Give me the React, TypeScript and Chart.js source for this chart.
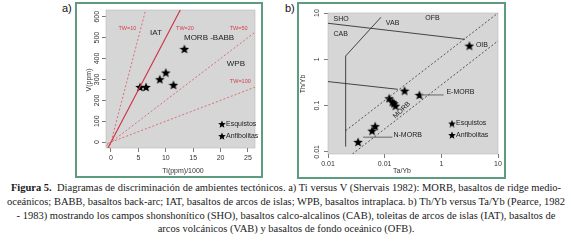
import React, { useEffect, useRef } from "react";
import { Chart, registerables } from "chart.js";
Chart.register(...registerables);

const FONT = '"Liberation Sans", Arial, sans-serif';

// ---------- Panel a: Ti vs V (Shervais 1982) ----------
const tiSamples = [5.3, 6.4, 8.9, 10.0, 11.4, 13.4];
const vSamples = [264, 264, 301, 333, 274, 446];
const twRatios = [10, 20, 50, 100];
const twLabels = ["TW=10", "TW=20", "TW=50", "TW=100"];
const twLabelX = [3.0, 13.5, 23.3, 23.6];
const twLabelY = [544, 544, 544, 291];
const fieldLabelsA = ["IAT", "MORB -BABB", "WPB"];
const fieldLabelAX = [8.2, 17.9, 22.8];
const fieldLabelAY = [525, 501, 376];
const xTicksA = [0, 5, 10, 15, 20, 25];
const yTicksA = [0, 100, 200, 300, 400, 500, 600];
const legendLabels = ["Esquistos", "Anfibolitas"];

// ---------- Panel b: Th/Yb vs Ta/Yb (Pearce) ----------
const taYbSamples = [3.13, 0.225, 0.41, 0.12, 0.137, 0.146, 0.155, 0.068, 0.06, 0.034];
const thYbSamples = [1.97, 0.21, 0.17, 0.144, 0.121, 0.112, 0.0995, 0.036, 0.0287, 0.0164];
const shoCabX = [0.01, 2.6];
const shoCabY = [6.0, 2.7];
const cabIatX = [0.01, 0.17];
const cabIatY = [0.33, 0.225];
const vabX = [0.0205, 0.0205, 0.086];
const vabY = [0.013, 1.18, 8.1];
const morbUpperX = [0.0205, 10];
const morbUpperY = [0.0287, 10];
const morbLowerX = [0.027, 10];
const morbLowerY = [0.009, 2.5];
const eMorbLeaderX = [0.44, 1.1];
const eMorbLeaderY = [0.17, 0.17];
const nMorbLeaderX = [0.0414, 0.137];
const nMorbLeaderY = [0.0207, 0.0207];
const fieldLabelsB = ["SHO", "CAB", "VAB", "OFB", "OIB", "E-MORB", "N-MORB"];
const fieldLabelBX = [0.0125, 0.0125, 0.105, 0.52, 4.07, 1.23, 0.143];
const fieldLabelBY = [7.3, 3.47, 6.17, 7.7, 2.04, 0.194, 0.0226];
const morbLabel = "MORB";
const morbLabelX = 0.2;
const morbLabelY = 0.08;
const xTicksB = [0.01, 0.1, 1, 10];
const xTickLabelsB = ["0.01", "0.01", "1", "10"];
const yTicksB = [0.01, 0.1, 1, 10];
const yTickLabelsB = ["0.01", "0.1", "1", "10"];

function makeStar(size: number): HTMLCanvasElement {
  const c = document.createElement("canvas");
  c.width = size;
  c.height = size;
  const ctx = c.getContext("2d")!;
  const cx = size / 2;
  const cy = size / 2 + size * 0.05;
  const R = size / 2;
  const r = R * 0.44;
  ctx.beginPath();
  for (let i = 0; i < 10; i++) {
    const ang = -Math.PI / 2 + (i * Math.PI) / 5;
    const rad = i % 2 === 0 ? R : r;
    const px = cx + rad * Math.cos(ang);
    const py = cy + rad * Math.sin(ang);
    if (i === 0) ctx.moveTo(px, py);
    else ctx.lineTo(px, py);
  }
  ctx.closePath();
  ctx.fillStyle = "#000";
  ctx.fill();
  return c;
}

const pts = (xs: number[], ys: number[]) => xs.map((x, i) => ({ x, y: ys[i] }));

function grayPlugin(id: string) {
  return {
    id,
    beforeDatasetsDraw(chart: any) {
      const { ctx, chartArea: ca } = chart;
      ctx.save();
      ctx.fillStyle = "#d6d6d6";
      ctx.fillRect(ca.left, ca.top, ca.right - ca.left, ca.bottom - ca.top);
      ctx.strokeStyle = "#b8b8b8";
      ctx.lineWidth = 0.6;
      ctx.strokeRect(ca.left, ca.top, ca.right - ca.left, ca.bottom - ca.top);
      ctx.restore();
    },
  };
}

function drawLegend(ctx: CanvasRenderingContext2D, star: HTMLCanvasElement, x: number, y0: number, gap: number) {
  ctx.save();
  ctx.font = `7px ${FONT}`;
  ctx.fillStyle = "#222";
  ctx.textAlign = "left";
  ctx.textBaseline = "middle";
  legendLabels.forEach((t, i) => {
    const ly = y0 + i * gap;
    ctx.drawImage(star, x - star.width / 2, ly - star.height / 2);
    ctx.fillText(t, x + 4, ly);
  });
  ctx.restore();
}

function PanelA() {
  const ref = useRef<HTMLCanvasElement>(null);
  useEffect(() => {
    const star = makeStar(10);
    const legendStar = makeStar(8);
    const labels = {
      id: "labelsA",
      afterDatasetsDraw(chart: any) {
        const { ctx, chartArea: ca, scales } = chart;
        const x = scales.x;
        const y = scales.y;
        ctx.save();
        ctx.textAlign = "center";
        ctx.textBaseline = "middle";
        ctx.fillStyle = "#d2404c";
        ctx.font = `5.5px ${FONT}`;
        twLabels.forEach((t, i) => ctx.fillText(t, x.getPixelForValue(twLabelX[i]), y.getPixelForValue(twLabelY[i])));
        ctx.fillStyle = "#222";
        ctx.font = `8px ${FONT}`;
        fieldLabelsA.forEach((t, i) => ctx.fillText(t, x.getPixelForValue(fieldLabelAX[i]), y.getPixelForValue(fieldLabelAY[i])));
        ctx.fillStyle = "#333";
        ctx.font = `7px ${FONT}`;
        ctx.fillText("Ti(ppm)/1000", 106, 167);
        ctx.translate(12, 76);
        ctx.rotate(-Math.PI / 2);
        ctx.fillText("V(ppm)", 0, 0);
        ctx.restore();
        drawLegend(ctx, legendStar, ca.right - 33, ca.bottom - 24, 12);
      },
    };
    const chart = new Chart(ref.current!, {
      type: "scatter",
      data: {
        datasets: [
          ...twRatios.map((r, i) => ({
            data: [
              { x: -2, y: -2000 / r },
              { x: 30, y: 30000 / r },
            ],
            showLine: true,
            borderColor: i === 1 ? "#cc3040" : "#d9626e",
            borderWidth: i === 1 ? 1.1 : 0.9,
            borderDash: i === 1 ? [] : [2, 2],
            pointRadius: 0,
          })),
          {
            data: pts(tiSamples, vSamples),
            pointStyle: star,
            pointRadius: 5,
            showLine: false,
          },
        ],
      } as any,
      options: {
        animation: false,
        responsive: false,
        maintainAspectRatio: false,
        layout: { padding: { top: 6, right: 6, left: 0, bottom: 0 } },
        plugins: { legend: { display: false }, tooltip: { enabled: false } },
        scales: {
          x: {
            type: "linear",
            min: -0.91,
            max: 26.28,
            afterBuildTicks: (s: any) => {
              s.ticks = xTicksA.map((v) => ({ value: v }));
            },
            afterFit: (s: any) => {
              s.height = 28;
              s.paddingLeft = 0;
              s.paddingRight = 0;
            },
            grid: { drawOnChartArea: false, drawTicks: true, tickLength: 4, color: "#555", lineWidth: 0.8 },
            border: { display: false },
            ticks: { font: { size: 7, family: FONT }, color: "#333", padding: 2, maxRotation: 0, minRotation: 0, autoSkip: false },
          },
          y: {
            type: "linear",
            min: -28,
            max: 632,
            afterBuildTicks: (s: any) => {
              s.ticks = yTicksA.map((v) => ({ value: v }));
            },
            afterFit: (s: any) => {
              s.width = 29;
              s.paddingTop = 0;
              s.paddingBottom = 0;
            },
            grid: { drawOnChartArea: false, drawTicks: true, tickLength: 4, color: "#555", lineWidth: 0.8 },
            border: { display: false },
            ticks: { font: { size: 7, family: FONT }, color: "#333", padding: -1, minRotation: 90, maxRotation: 90, crossAlign: "center", autoSkip: false },
          },
        },
      } as any,
      plugins: [grayPlugin("grayA"), labels],
    });
    return () => chart.destroy();
  }, []);
  return <canvas ref={ref} width={184} height={172} style={{ position: "absolute", left: 77, top: 4, width: 184, height: 172 }} />;
}

function PanelB() {
  const ref = useRef<HTMLCanvasElement>(null);
  useEffect(() => {
    const star = makeStar(10);
    const legendStar = makeStar(8);
    const labels = {
      id: "labelsB",
      afterDatasetsDraw(chart: any) {
        const { ctx, chartArea: ca, scales } = chart;
        const x = scales.x;
        const y = scales.y;
        ctx.save();
        ctx.textAlign = "left";
        ctx.textBaseline = "middle";
        ctx.fillStyle = "#222";
        ctx.font = `7px ${FONT}`;
        fieldLabelsB.forEach((t, i) => ctx.fillText(t, x.getPixelForValue(fieldLabelBX[i]), y.getPixelForValue(fieldLabelBY[i])));
        ctx.save();
        ctx.translate(x.getPixelForValue(morbLabelX), y.getPixelForValue(morbLabelY));
        ctx.rotate((-44 * Math.PI) / 180);
        ctx.textAlign = "center";
        ctx.fillText(morbLabel, 0, 0);
        ctx.restore();
        ctx.textAlign = "center";
        ctx.fillStyle = "#333";
        ctx.fillText("Ta/Yb", 103, 167);
        ctx.translate(4.5, 80);
        ctx.rotate(-Math.PI / 2);
        ctx.fillText("Th/Yb", 0, 0);
        ctx.restore();
        drawLegend(ctx, legendStar, ca.right - 46, ca.bottom - 30.5, 11.5);
      },
    };
    const line = (xs: number[], ys: number[], color: string, width: number, dash: number[]) => ({
      data: pts(xs, ys),
      showLine: true,
      borderColor: color,
      borderWidth: width,
      borderDash: dash,
      pointRadius: 0,
    });
    const chart = new Chart(ref.current!, {
      type: "scatter",
      data: {
        datasets: [
          line(shoCabX, shoCabY, "#333", 0.9, []),
          line(cabIatX, cabIatY, "#333", 0.9, []),
          line(vabX, vabY, "#333", 0.9, []),
          line(morbUpperX, morbUpperY, "#444", 0.9, [2, 2]),
          line(morbLowerX, morbLowerY, "#444", 0.9, [2, 2]),
          line(eMorbLeaderX, eMorbLeaderY, "#8c8c8c", 1.5, []),
          line(nMorbLeaderX, nMorbLeaderY, "#8c8c8c", 1.5, []),
          {
            data: pts(taYbSamples, thYbSamples),
            pointStyle: star,
            pointRadius: 5,
            showLine: false,
          },
        ],
      } as any,
      options: {
        animation: false,
        responsive: false,
        maintainAspectRatio: false,
        layout: { padding: { top: 9, right: 3, left: 0, bottom: 0 } },
        plugins: { legend: { display: false }, tooltip: { enabled: false } },
        scales: {
          x: {
            type: "logarithmic",
            min: 0.01,
            max: 10,
            afterBuildTicks: (s: any) => {
              s.ticks = xTicksB.map((v) => ({ value: v }));
            },
            afterFit: (s: any) => {
              s.height = 23;
              s.paddingLeft = 0;
              s.paddingRight = 0;
            },
            grid: { drawOnChartArea: false, drawTicks: true, tickLength: 4, color: "#555", lineWidth: 0.8 },
            border: { display: false },
            ticks: {
              font: { size: 7, family: FONT },
              color: "#333",
              padding: 2,
              maxRotation: 0,
              minRotation: 0,
              autoSkip: false,
              callback: (_v: any, i: number) => xTickLabelsB[i],
            },
          },
          y: {
            type: "logarithmic",
            min: 0.009,
            max: 10,
            afterBuildTicks: (s: any) => {
              s.ticks = yTicksB.map((v) => ({ value: v }));
            },
            afterFit: (s: any) => {
              s.width = 29;
              s.paddingTop = 0;
              s.paddingBottom = 0;
            },
            grid: { drawOnChartArea: false, drawTicks: true, tickLength: 4, color: "#555", lineWidth: 0.8 },
            border: { display: false },
            ticks: {
              font: { size: 7, family: FONT },
              color: "#333",
              padding: 0,
              minRotation: 90,
              maxRotation: 90,
              crossAlign: "center",
              autoSkip: false,
              callback: (_v: any, i: number) => yTickLabelsB[i],
            },
          },
        },
      } as any,
      plugins: [grayPlugin("grayB"), labels],
    });
    return () => chart.destroy();
  }, []);
  return <canvas ref={ref} width={205} height={173} style={{ position: "absolute", left: 299, top: 4, width: 205, height: 173 }} />;
}

const frameStyle = (left: number, top: number, w: number, h: number): React.CSSProperties => ({
  position: "absolute",
  left,
  top,
  width: w,
  height: h,
  border: "2px solid #5e9c80",
  boxSizing: "border-box",
});

const lineStyle: React.CSSProperties = { whiteSpace: "nowrap", height: 13.8, lineHeight: "13.8px" };

export default function App() {
  return (
    <div style={{ position: "absolute", left: 0, top: 0, width: 572, height: 244, background: "#fff", overflow: "hidden" }}>
      <div style={frameStyle(75, 2, 188, 176)} />
      <div style={frameStyle(297, 2, 209, 177)} />
      <PanelA />
      <PanelB />
      <div style={{ position: "absolute", left: 62, top: 2, font: `11px ${FONT}`, color: "#111" }}>a)</div>
      <div style={{ position: "absolute", left: 285, top: 2, font: `11px ${FONT}`, color: "#111" }}>b)</div>
      <div
        style={{
          position: "absolute",
          left: 0,
          top: 181,
          width: 572,
          textAlign: "center",
          fontFamily: '"Liberation Serif", "Times New Roman", serif',
          fontSize: 10.5,
          color: "#1a1a1a",
        }}
      >
        <div style={lineStyle}>
          <b>Figura 5.</b>{"\u00a0 "}Diagramas de discriminación de ambientes tectónicos. a) Ti versus V (Shervais 1982): MORB, basaltos de ridge medio-
        </div>
        <div style={lineStyle}>
          oceánicos; BABB, basaltos back-arc; IAT, basaltos de arcos de islas; WPB, basaltos intraplaca. b) Th/Yb versus Ta/Yb (Pearce, 1982
        </div>
        <div style={lineStyle}>
          - 1983) mostrando los campos shonshonítico (SHO), basaltos calco-alcalinos (CAB), toleitas de arcos de islas (IAT), basaltos de
        </div>
        <div style={lineStyle}>arcos volcánicos (VAB) y basaltos de fondo oceánico (OFB).</div>
      </div>
    </div>
  );
}
